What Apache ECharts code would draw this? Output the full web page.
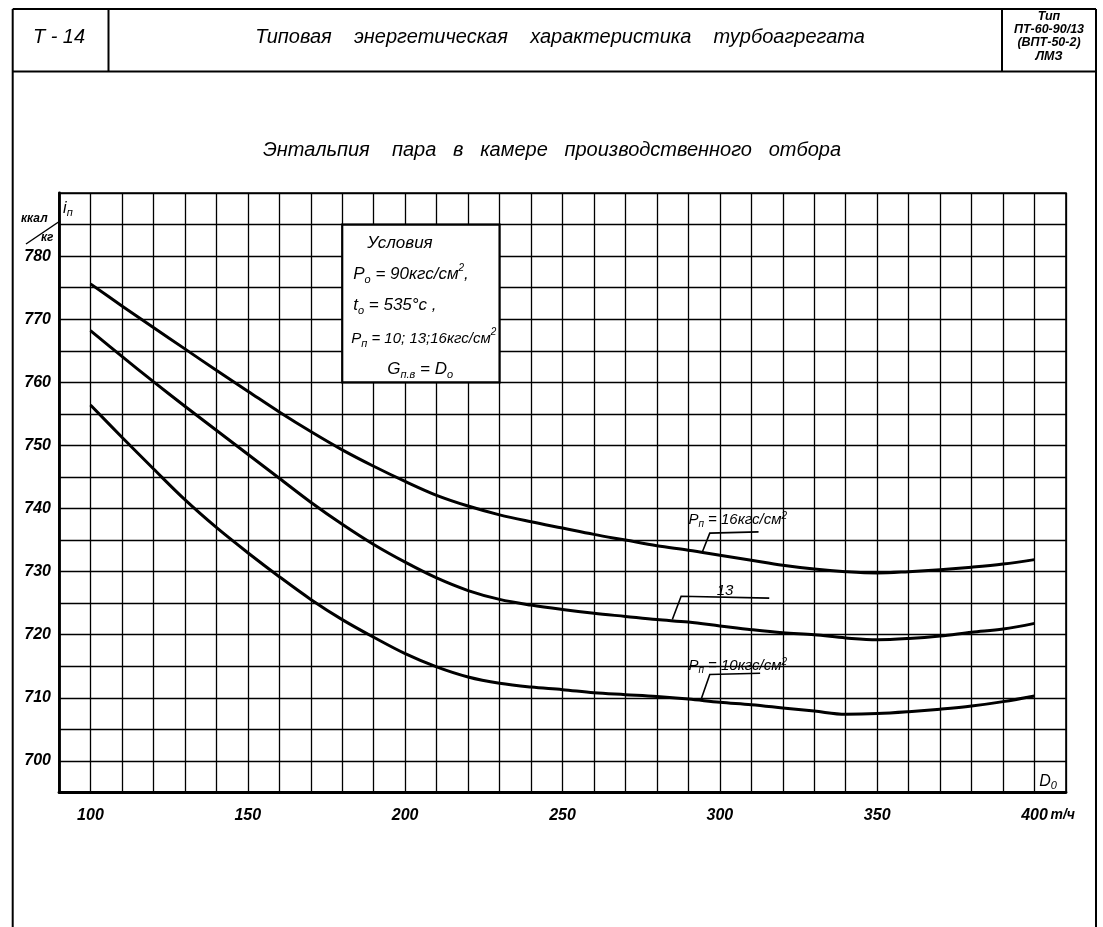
<!DOCTYPE html>
<html><head><meta charset="utf-8">
<script src="https://cdn.jsdelivr.net/npm/echarts@6/dist/echarts.min.js"></script>
<style>html,body{margin:0;padding:0;background:#fff}#c{width:1103px;height:927px}</style>
</head><body><div id="c"></div>
<script>
// Steam flow D0, t/h
const xValues = [100,110,120,130,140,150,160,170,180,190,200,210,220,230,240,250,260,270,280,290,300,310,320,330,340,350,360,370,380,390,400];
// Enthalpy i_p, kcal/kg, for extraction pressure 16, 13, 10 kgf/cm2
const enthalpy16 = [775.6,772.1,768.7,765.3,761.9,758.6,755.3,752.2,749.3,746.7,744.3,742.1,740.4,739.0,737.9,736.9,735.9,735.0,734.1,733.4,732.6,731.8,731.0,730.4,730.0,729.8,730.0,730.3,730.7,731.2,731.9];
const enthalpy13 = [768.2,764.1,760.1,756.2,752.4,748.6,744.8,741.0,737.5,734.3,731.5,729.0,727.0,725.6,724.7,724.0,723.4,722.9,722.4,722.0,721.4,720.8,720.3,720.0,719.5,719.2,719.4,719.8,720.4,720.9,721.8];
const enthalpy10 = [756.4,751.3,746.3,741.4,737.0,733.0,729.2,725.6,722.4,719.6,717.0,714.9,713.3,712.3,711.7,711.3,710.8,710.5,710.2,709.8,709.3,708.9,708.4,707.9,707.4,707.5,707.8,708.2,708.7,709.4,710.3];
const xTickLabels = [100,150,200,250,300,350,400];
const yTickLabels = [700,710,720,730,740,750,760,770,780];

const FONT = 'Liberation Sans';
const chart = echarts.init(document.getElementById('c'), null, {renderer:'canvas'});
const curve = (name, arr) => ({
  name, type:'line', smooth:0.35, symbol:'none', z:5,
  data: xValues.map((x,i)=>[x, arr[i]]),
  lineStyle:{color:'#000', width:3}
});
chart.setOption({
  animation:false,
  backgroundColor:'#fff',
  grid:{left:59, right:37, top:193, bottom:134.5, show:true, borderColor:'#000', borderWidth:1.6, backgroundColor:'transparent'},
  xAxis:{type:'value', min:90, max:410, interval:10,
    axisLine:{show:true, lineStyle:{color:'#000', width:2.8}}, axisTick:{show:false},
    splitLine:{show:true, lineStyle:{color:'#000', width:1.3}},
    axisLabel:{margin:15, fontFamily:FONT, fontStyle:'italic', fontWeight:'bold', fontSize:16, color:'#000',
      formatter:v=> xTickLabels.includes(v) ? String(v) : ''}},
  yAxis:{type:'value', min:695, max:790, interval:5,
    axisLine:{show:true, lineStyle:{color:'#000', width:2.8}}, axisTick:{show:false},
    splitLine:{show:true, lineStyle:{color:'#000', width:1.3}},
    axisLabel:{margin:8, fontFamily:FONT, fontStyle:'italic', fontWeight:'bold', fontSize:16, color:'#000',
      formatter:v=> yTickLabels.includes(v) ? String(v) : ''}},
  series:[curve('16', enthalpy16), curve('13', enthalpy13), curve('10', enthalpy10)]
});

function P(x,y){ return chart.convertToPixel({gridIndex:0},[x,y]); }
const els = [];
function txt(x,y,text,size,opts){
  opts = opts||{};
  els.push({type:'text', x, y, z:120, style:Object.assign({text, fontFamily:FONT, fontStyle:'italic', fontSize:size, fill:'#000', align:opts.align||'left', verticalAlign:'middle', fontWeight:opts.weight||'normal'}, opts.rich?{rich:opts.rich}:{})});
}
function seg(x1,y1,x2,y2,w){ els.push({type:'line', z:120, shape:{x1,y1,x2,y2}, style:{stroke:'#000', lineWidth:w||2}}); }
function poly(pts,w){ els.push({type:'polyline', z:120, shape:{points:pts}, style:{stroke:'#000', lineWidth:w||1.6, fill:null}}); }

// page frame and header
const L=12.7, R=1096, T=9, HB=71.5;
seg(L,T,R,T,2); seg(L,T,L,927,2); seg(R,T,R,927,2); seg(L,HB,R,HB,2);
seg(108.5,T,108.5,HB,2); seg(1002,T,1002,HB,2);
txt(59,37,'Т - 14',20,{align:'center'});
txt(560,37,'Типовая    энергетическая    характеристика    турбоагрегата',20,{align:'center'});
txt(1049,17,'Тип',12.5,{align:'center',weight:'bold'});
txt(1049,30,'ПТ-60-90/13',12.5,{align:'center',weight:'bold'});
txt(1049,43,'(ВПТ-50-2)',12.5,{align:'center',weight:'bold'});
txt(1049,57,'ЛМЗ',12.5,{align:'center',weight:'bold'});
txt(552,150,'Энтальпия    пара   в   камере   производственного   отбора',20,{align:'center'});

// axis names
const rich = {
  b:{fontFamily:FONT, fontStyle:'italic', fontSize:16, lineHeight:20, verticalAlign:'middle'},
  s:{fontFamily:FONT, fontStyle:'italic', fontSize:11, lineHeight:11, verticalAlign:'bottom'},
  u:{fontFamily:FONT, fontStyle:'italic', fontSize:10, lineHeight:11, verticalAlign:'top'}
};
let p = P(91.3,787.6);
txt(p[0],p[1],'{b|i}{s|п}',16,{rich});
txt(21,219,'ккал',12,{weight:'bold'});
txt(41,238,'кг',12,{weight:'bold'});
seg(26,244,60,221,1.5);
p = P(404.3,696.8);
txt(p[0],p[1],'{b|D}{s|0}',16,{align:'center',rich});
p = P(400,695);
txt(p[0]+16,p[1]+23,'т/ч',14,{weight:'bold'});

// conditions box
const b1 = P(180,785), b2 = P(230,760);
els.push({type:'rect', z:110, shape:{x:b1[0], y:b1[1], width:b2[0]-b1[0], height:b2[1]-b1[1]}, style:{fill:'#fff', stroke:'#000', lineWidth:2.2}});
const richBox = {
  b:{fontFamily:FONT, fontStyle:'italic', fontSize:17, lineHeight:22, verticalAlign:'middle'},
  c:{fontFamily:FONT, fontStyle:'italic', fontSize:15, lineHeight:22, verticalAlign:'middle'},
  s:{fontFamily:FONT, fontStyle:'italic', fontSize:11, lineHeight:12, verticalAlign:'bottom'},
  u:{fontFamily:FONT, fontStyle:'italic', fontSize:10, lineHeight:12, verticalAlign:'top'}
};
txt(b1[0]+25,b1[1]+18.5,'Условия',17);
txt(b1[0]+11,b1[1]+50,'{b|P}{s|о}{b| = 90кгс/см}{u|2}{b|,}',17,{rich:richBox});
txt(b1[0]+11,b1[1]+81,'{b|t}{s|о}{b| = 535°с ,}',17,{rich:richBox});
txt(b1[0]+9,b1[1]+114,'{c|P}{s|п}{c| = 10; 13;16кгс/см}{u|2}',15,{rich:richBox});
txt(b1[0]+45,b1[1]+145,'{b|G}{s|п.в}{b| = D}{s|о}',17,{rich:richBox});

// curve labels with leader lines
const richL = {
  b:{fontFamily:FONT, fontStyle:'italic', fontSize:15, lineHeight:18, verticalAlign:'middle'},
  s:{fontFamily:FONT, fontStyle:'italic', fontSize:10, lineHeight:11, verticalAlign:'bottom'},
  u:{fontFamily:FONT, fontStyle:'italic', fontSize:10, lineHeight:11, verticalAlign:'top'}
};
poly([P(294.5,733.2),P(296.8,736.1),P(312.3,736.3)]);
p = P(290,738.2); txt(p[0],p[1],'{b|P}{s|п}{b| = 16кгс/см}{u|2}',15,{rich:richL});
poly([P(284.9,722.4),P(287.7,726.1),P(315.7,725.8)]);
p = P(299,727.0); txt(p[0],p[1],'13',15);
poly([P(294,709.7),P(296.8,713.7),P(312.8,713.9)]);
p = P(290,715.0); txt(p[0],p[1],'{b|P}{s|п}{b| = 10кгс/см}{u|2}',15,{rich:richL});

chart.setOption({graphic:{elements:els}});
</script></body></html>
